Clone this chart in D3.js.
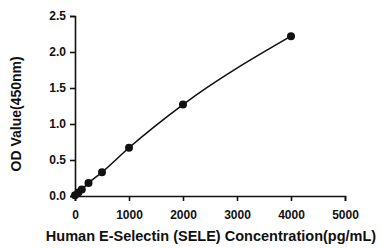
<!DOCTYPE html>
<html>
<head>
<meta charset="utf-8">
<script src="https://cdn.jsdelivr.net/npm/d3@7"></script>
<style>
  body { margin: 0; background: #fff; }
  text { font-family: "Liberation Sans", Arial, sans-serif; font-weight: bold; fill: #111; }
</style>
</head>
<body>
<div id="chart"></div>
<script>
// standard curve values
const conc = [0, 62.5, 125, 250, 500, 1000, 2000, 4000];
const od = [0.01, 0.05, 0.09, 0.18, 0.33, 0.67, 1.27, 2.22];
const xTicks = [0, 1000, 2000, 3000, 4000, 5000];
const yTicks = [0, 0.5, 1.0, 1.5, 2.0, 2.5];

const width = 383, height = 248;
const margin = { left: 75, right: 38, top: 16, bottom: 52 };

const svg = d3.select("#chart").append("svg")
  .attr("width", width)
  .attr("height", height);

const x = d3.scaleLinear().domain([0, 5000]).range([margin.left, width - margin.right]);
const y = d3.scaleLinear().domain([0, 2.5]).range([height - margin.bottom, margin.top]);

// axes
const xAxis = svg.append("g")
  .attr("transform", `translate(0,${y(0)})`)
  .call(d3.axisBottom(x).tickValues(xTicks).tickSize(5).tickPadding(9).tickFormat(d3.format("d")));

const yAxis = svg.append("g")
  .attr("transform", `translate(${x(0)},0)`)
  .call(d3.axisLeft(y).tickValues(yTicks).tickSize(5).tickPadding(4).tickFormat(d3.format(".1f")));

[xAxis, yAxis].forEach(g => {
  g.select(".domain").attr("stroke", "#111").attr("stroke-width", 1.6);
  g.selectAll(".tick line").attr("stroke", "#111").attr("stroke-width", 1.6);
  g.selectAll(".tick text").style("font-size", "12px").style("font-family", "Liberation Sans, Arial, sans-serif").style("font-weight", "bold").attr("fill", "#111");
});

// fitted line
const line = d3.line()
  .x((d, i) => x(conc[i]))
  .y(d => y(d))
  .curve(d3.curveMonotoneX);

svg.append("path")
  .datum(od)
  .attr("d", line)
  .attr("fill", "none")
  .attr("stroke", "#111")
  .attr("stroke-width", 1.6);

svg.selectAll("circle")
  .data(od)
  .enter().append("circle")
  .attr("cx", (d, i) => x(conc[i]))
  .attr("cy", d => y(d))
  .attr("r", 4)
  .attr("fill", "#111");

// axis titles
svg.append("text")
  .attr("x", 211)
  .attr("y", 241)
  .attr("text-anchor", "middle")
  .style("font-size", "14.5px")
  .text("Human E-Selectin (SELE) Concentration(pg/mL)");

svg.append("text")
  .attr("transform", `translate(21,${y(1.14)}) rotate(-90)`)
  .attr("text-anchor", "middle")
  .style("font-size", "14px")
  .text("OD Value(450nm)");
</script>
</body>
</html>
